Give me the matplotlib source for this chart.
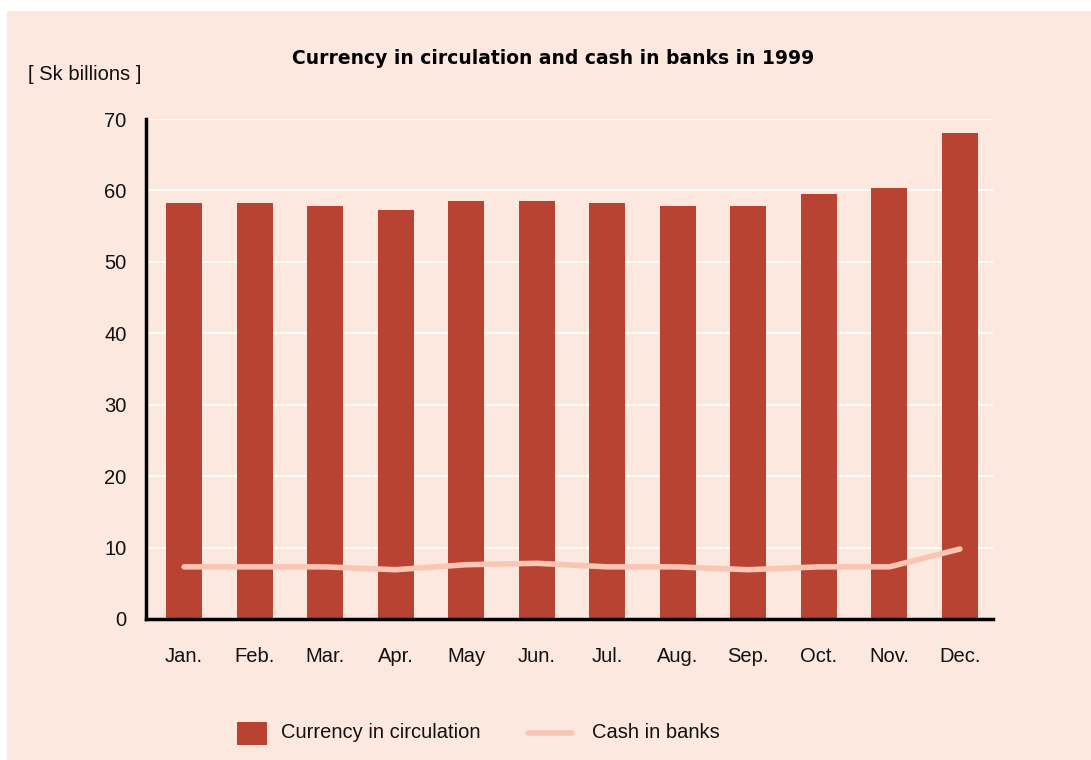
import matplotlib
matplotlib.use("Agg")
import matplotlib.pyplot as plt
from matplotlib.patches import Rectangle
from matplotlib.lines import Line2D

months = ["Jan.", "Feb.", "Mar.", "Apr.", "May", "Jun.", "Jul.", "Aug.", "Sep.", "Oct.", "Nov.", "Dec."]
currency = [58.2, 58.2, 57.8, 57.3, 58.5, 58.5, 58.2, 57.8, 57.8, 59.5, 60.3, 68.0]
cash = [7.3, 7.3, 7.3, 6.9, 7.6, 7.8, 7.3, 7.3, 6.9, 7.3, 7.3, 9.8]
yticks = [0, 10, 20, 30, 40, 50, 60, 70]
series_names = ["Currency in circulation", "Cash in banks"]

BG = "#FDE8E0"
BAR = "#B84332"
LINE = "#F9C6B3"
FS = 14.5

plt.rcParams["font.family"] = ["Liberation Sans", "DejaVu Sans"]

W, H = 1091, 760
fig = plt.figure(figsize=(W / 100, H / 100), dpi=100)
fig.patch.set_facecolor("white")
fig.patches.append(Rectangle((7 / W, 0), 1, 1 - 11 / H, transform=fig.transFigure,
                             facecolor=BG, edgecolor="none", zorder=-10))

ax = fig.add_axes([146 / W, 1 - 619 / H, (993 - 146) / W, (619 - 119) / H])
ax.set_facecolor(BG)
x = list(range(len(months)))
ax.bar(x, currency, width=0.51, color=BAR, zorder=2)
ax.plot(x, cash, color=LINE, lw=4, solid_capstyle="round", zorder=3)

ax.set_xlim(-0.54, 11.47)
ax.set_ylim(0, 70)
ax.set_yticks(yticks)
ax.set_xticks(x)
ax.set_xticklabels(months)
ax.yaxis.grid(True, color="white", lw=1.2, zorder=1)
ax.set_axisbelow(True)
for s in ["top", "right"]:
    ax.spines[s].set_visible(False)
for s in ["left", "bottom"]:
    ax.spines[s].set_linewidth(2.5)
    ax.spines[s].set_color("black")
ax.tick_params(axis="both", length=0, labelsize=FS, colors="#111111")
ax.tick_params(axis="x", pad=20)
ax.tick_params(axis="y", pad=14)

fig.text(553 / W, 1 - 59 / H, "Currency in circulation and cash in banks in 1999",
         ha="center", va="center", fontsize=13.5, fontweight="heavy", family=["DejaVu Sans"])
fig.text(28 / W, 1 - 74 / H, "[ Sk billions ]", ha="left", va="center", fontsize=FS, color="#111111")

# legend drawn in figure coordinates
fig.patches.append(Rectangle((237 / W, 1 - 745 / H), 30 / W, 23 / H, transform=fig.transFigure,
                             facecolor=BAR, edgecolor="none"))
fig.text(281 / W, 1 - 733 / H, series_names[0], ha="left", va="center", fontsize=FS, color="#111111")
fig.lines.append(Line2D([528 / W, 572 / W], [1 - 733 / H, 1 - 733 / H], transform=fig.transFigure,
                        color=LINE, lw=4, solid_capstyle="round"))
fig.text(592 / W, 1 - 733 / H, series_names[1], ha="left", va="center", fontsize=FS, color="#111111")

fig.savefig("out.png", dpi=100, facecolor=fig.get_facecolor())
